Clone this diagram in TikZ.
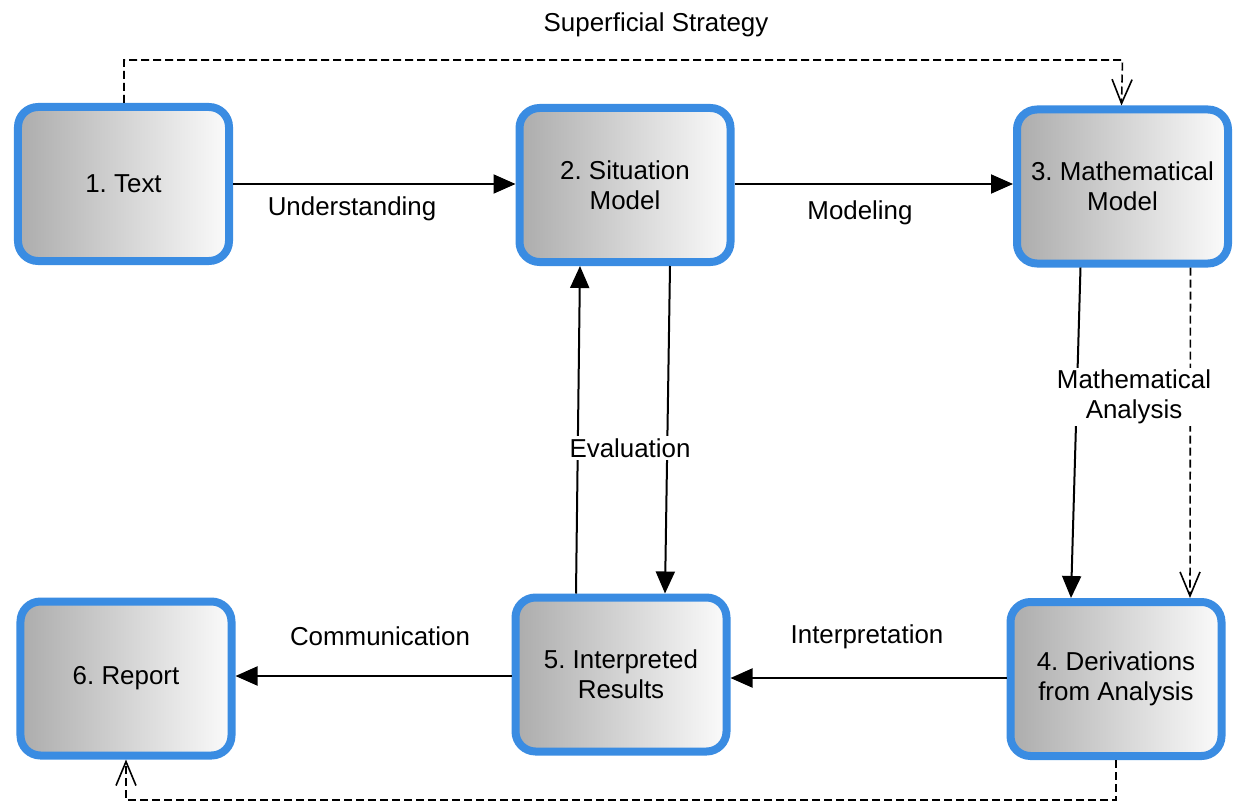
\documentclass[tikz,border=0pt]{standalone}
\usepackage{fontspec}
\setmainfont{Liberation Sans}
\usetikzlibrary{arrows.meta}
\definecolor{boxblue}{RGB}{58,140,226}
\definecolor{boxgray}{RGB}{172,172,172}
\tikzset{
  stagebox/.style={draw=boxblue, line width=8bp, rounded corners=20bp,
    left color=boxgray, right color=white!97!gray,
    minimum width=211bp, minimum height=154bp, align=center,
    font=\fontsize{26}{30}\selectfont\frenchspacing, inner sep=2bp},
  flow/.style={line width=2bp, -{Triangle[length=22bp,width=19bp]}},
  shortcut/.style={line width=1.6bp, dash pattern=on 8bp off 4bp,
    -{Straight Barb[length=24bp,width=20bp,line width=1.6bp]}},
  lbl/.style={font=\fontsize{26}{30}\selectfont, align=center, inner sep=2bp}
}
\begin{document}
\frenchspacing
\begin{tikzpicture}[x=1bp,y=-1bp]
\useasboundingbox (0,0) rectangle (1236,809);
\node[stagebox] (b1) at (123.5,184) {1. Text};
\node[stagebox] (b2) at (625,185) {2. Situation\\Model};
\node[stagebox] (b3) at (1122.5,186.5) {3. Mathematical\\Model};
\node[stagebox] (b4) at (1116,679) {4. Derivations\\from Analysis};
\node[stagebox] (b5) at (621,674.5) {5. Interpreted\\Results};
\node[stagebox] (b6) at (126,678.5) {6. Report};

\coordinate (top) at (0,60);
\coordinate (bot) at (0,800);

% top row
\draw[flow] (b1.east |- 0,184) -- (b2.west |- 0,184);
\draw[flow] (b2.east |- 0,184) -- (b3.west |- 0,184);
\node[lbl] (lu) at (352,209) {Understanding};
\node[lbl] (lm) at (860,213) {Modeling};

% superficial strategy
\draw[shortcut] ([xshift=0.5bp]b1.north) |- (top -| b3.north) -- ([xshift=-1bp]b3.north);
\node[lbl] (ls) at (656,25) {Superficial Strategy};

% mathematical analysis
\draw[flow] ([xshift=-42bp]b3.south) -- ([xshift=-45bp]b4.north);
\draw[shortcut] ([xshift=68bp]b3.south) -- ([xshift=74bp]b4.north);
\node[lbl, fill=white] (la) at (1134,397) {Mathematical\\Analysis};

% evaluation
\draw[flow] ([xshift=-45bp]b5.north) -- ([xshift=-45bp]b2.south);
\draw[flow] ([xshift=45bp]b2.south) -- ([xshift=44bp]b5.north);
\node[lbl, fill=white] (le) at (630,448) {Evaluation};

% bottom row
\draw[flow] (b4.west |- 0,678) -- (b5.east |- 0,678);
\draw[flow] (b5.west |- 0,676) -- (b6.east |- 0,676);
\node[lbl] (li) at (867,637) {Interpretation};
\node[lbl] (lc) at (380,636) {Communication};

% report shortcut
\draw[shortcut] (b4.south) |- (bot -| b6.south) -- (b6.south);
\end{tikzpicture}
\end{document}
